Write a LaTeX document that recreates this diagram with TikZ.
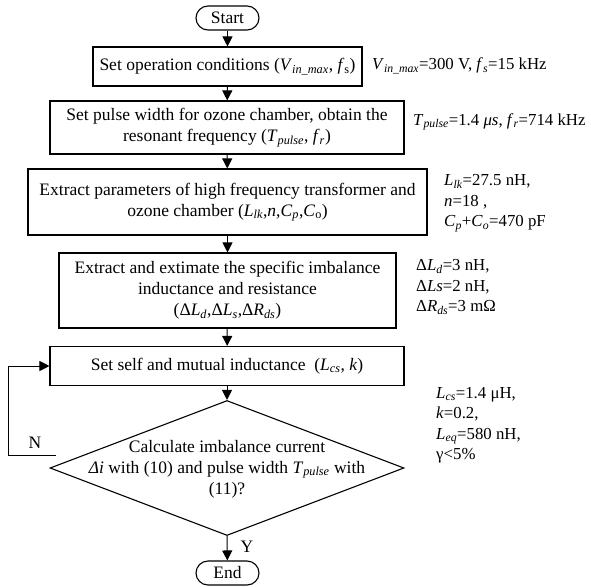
\documentclass[tikz,border=0pt]{standalone}
\usepackage{fontspec}
\setmainfont{Liberation Serif}
\usetikzlibrary{arrows.meta,shapes.geometric}
\newcommand\isub[2]{\textit{#1}\textsubscript{\textit{#2}}}
\begin{document}
\begin{tikzpicture}[x=1pt,y=-1pt,
  every node/.style={font=\fontsize{17.5}{21}\selectfont},
  box/.style={draw, line width=1.1pt, inner sep=0pt, align=center},
  term/.style={draw, rounded corners=12pt, line width=1.1pt, minimum width=63pt, minimum height=24pt, inner sep=0pt},
  arr/.style={line width=1pt, -{Triangle[length=10pt,width=10pt]}},
  lbl/.style={anchor=west, align=left, inner sep=0pt, font=\fontsize{16.8}{20.5}\selectfont}]
\useasboundingbox (0,0) rectangle (591,586);
\node[term] (start) at (227.5,18) {Start};
\node[box, minimum width=269pt, minimum height=39pt] (b1) at (227.5,66.5)
  {Set operation conditions (\isub{V}{in\_max}, \textit{f}\textsubscript{s})};
\node[box, minimum width=354pt, minimum height=53pt] (b2) at (227,127.5)
  {Set pulse width for ozone chamber, obtain the\\resonant frequency (\isub{T}{pulse}, \isub{f}{r})};
\node[box, minimum width=399pt, minimum height=66pt] (b3) at (227.5,202)
  {Extract parameters of high frequency transformer and\\ozone chamber (\isub{L}{lk},\textit{n},\isub{C}{p},\textit{C}\textsubscript{o})};
\node[box, minimum width=337pt, minimum height=75pt] (b4) at (227.5,290.5)
  {Extract and extimate the specific imbalance\\inductance and resistance\\(Δ\isub{L}{d},Δ\isub{L}{s},Δ\isub{R}{ds})};
\node[box, minimum width=354pt, minimum height=39pt] (b5) at (227,366)
  {Set self and mutual inductance~ (\isub{L}{cs}, \textit{k})};
\node[draw, diamond, line width=1.1pt, minimum width=354pt, minimum height=135pt, inner sep=0pt] (dec) at (227,468) {};
\node[align=center, inner sep=0pt] (dect) at (227,469)
  {Calculate imbalance current\\\textit{Δi} with (10) and pulse width \isub{T}{pulse} with\\(11)?};
\node[term] (end) at (227.5,573) {End};

\node[lbl] (l1) at (372,66) {\isub{V}{in\_max}=300 V, \isub{f}{s}=15 kHz};
\node[lbl] (l2) at (413,122) {\isub{T}{pulse}=1.4 \textit{μs}, \isub{f}{r}=714 kHz};
\node[lbl] (l3) at (444,203) {\isub{L}{lk}=27.5 nH,\\\textit{n}=18 ,\\\isub{C}{p}+\isub{C}{o}=470 pF};
\node[lbl] (l4) at (416,287) {Δ\isub{L}{d}=3 nH,\\Δ\textit{Ls}=2 nH,\\Δ\isub{R}{ds}=3 mΩ};
\node[lbl] (l5) at (436,425) {\isub{L}{cs}=1.4 μH,\\\textit{k}=0.2,\\\isub{L}{eq}=580 nH,\\γ<5\%};

\draw[arr] (start) -- (b1);
\draw[arr] (b1) -- (b2);
\draw[arr] (b2) -- (b3);
\draw[arr] (b3) -- (b4);
\draw[arr] (b4) -- (b5);
\draw[arr] (b5) -- (dec.north);
\draw[arr] (dec.south) -- (end);
\coordinate (nend) at (56,455);
\draw[arr] (nend) -- (8,455) -- (8,366) -- (b5.west);
\node[inner sep=0pt] (nlab) at (35,443) {N};
\node[inner sep=0pt] (ylab) at (247,547) {Y};
\end{tikzpicture}
\end{document}
